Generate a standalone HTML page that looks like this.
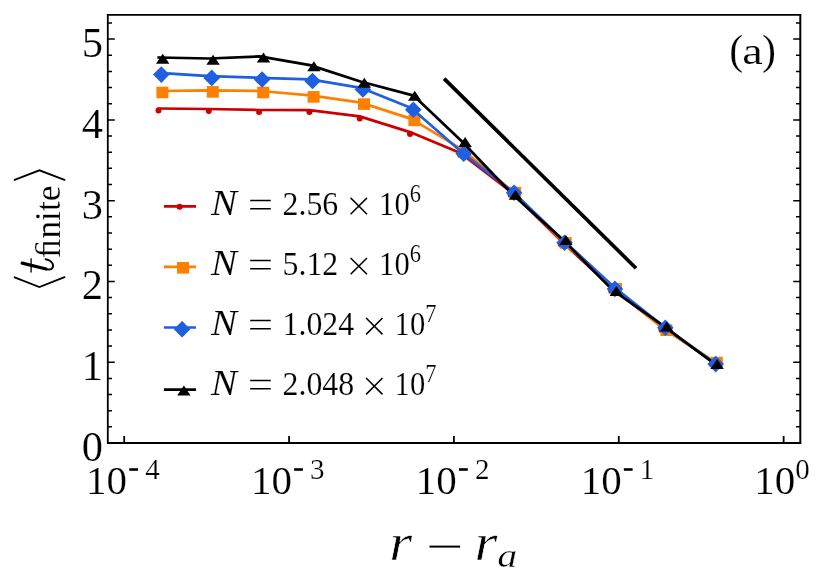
<!DOCTYPE html>
<html><head><meta charset="utf-8"><title>chart</title>
<style>html,body{margin:0;padding:0;background:#fff;}svg{display:block;}text{font-family:"Liberation Serif",serif;fill:#000;stroke:#fff;stroke-width:0.2px;}.it{font-style:italic;}#legendtext text{stroke-width:0.15px;}#xlabel text{stroke-width:0.6px;}</style>
</head><body>
<svg width="823" height="582" viewBox="0 0 823 582">
<rect x="0" y="0" width="823" height="582" fill="#ffffff"/>
<g id="series">
<polyline points="158.5,108.5 208.8,109 259.1,110 309.4,110.1 359.7,116.4 410,132.1 460.3,153 511.5,192.1 561.8,241.6 612.1,288.1 662.4,327.1 712.7,361.1" fill="none" stroke="#cc0000" stroke-width="2.7" stroke-linejoin="round" stroke-linecap="square"/>
<circle cx="158.5" cy="110.5" r="3" fill="#cc0000"/><circle cx="208.8" cy="111" r="3" fill="#cc0000"/><circle cx="259.1" cy="112" r="3" fill="#cc0000"/><circle cx="309.4" cy="112.1" r="3" fill="#cc0000"/><circle cx="359.7" cy="118.4" r="3" fill="#cc0000"/><circle cx="410" cy="134.1" r="3" fill="#cc0000"/><circle cx="460.3" cy="155" r="3" fill="#cc0000"/><circle cx="510.6" cy="195" r="3" fill="#cc0000"/><circle cx="560.9" cy="244.5" r="3" fill="#cc0000"/><circle cx="611.2" cy="291" r="3" fill="#cc0000"/><circle cx="661.5" cy="330" r="3" fill="#cc0000"/><circle cx="711.8" cy="364" r="3" fill="#cc0000"/>
<polyline points="159.4,91 209.8,90.4 260.2,91 310.6,95.4 361,102.6 411.4,118.9 462.8,149.9 512.2,191.1 562.6,241.4 613,287.3 663.4,328.7 713.8,361.1" fill="none" stroke="#ff7f00" stroke-width="2.7" stroke-linejoin="round" stroke-linecap="square"/>
<rect x="156.4" y="86.7" width="12" height="11.6" fill="#ff7f00"/><rect x="206.8" y="86.1" width="12" height="11.6" fill="#ff7f00"/><rect x="257.2" y="86.7" width="12" height="11.6" fill="#ff7f00"/><rect x="307.6" y="91.1" width="12" height="11.6" fill="#ff7f00"/><rect x="358" y="98.3" width="12" height="11.6" fill="#ff7f00"/><rect x="408.4" y="114.6" width="12" height="11.6" fill="#ff7f00"/><rect x="458.8" y="146.6" width="12" height="11.6" fill="#ff7f00"/><rect x="509.2" y="186.8" width="12" height="11.6" fill="#ff7f00"/><rect x="559.6" y="237.1" width="12" height="11.6" fill="#ff7f00"/><rect x="610" y="283" width="12" height="11.6" fill="#ff7f00"/><rect x="660.4" y="324.4" width="12" height="11.6" fill="#ff7f00"/><rect x="710.8" y="356.8" width="12" height="11.6" fill="#ff7f00"/>
<polyline points="159.2,72.9 209.6,76.2 260,77.8 310.4,79.3 360.8,87.8 411.2,108.1 461.6,152 512,191 563.3,240.2 613.4,286.6 663.2,326.1 713.6,362.4" fill="none" stroke="#1f5fe1" stroke-width="2.7" stroke-linejoin="round" stroke-linecap="square"/>
<polyline points="158.8,57.5 209.2,58.5 259.6,56.4 310,65.1 360.4,81.5 413.8,95.65 461.2,140.8 511.6,193.5 562,238.9 612.4,289.9 662.8,325.4 713.2,362.9" fill="none" stroke="#000000" stroke-width="2.7" stroke-linejoin="round" stroke-linecap="square"/>
<polygon points="161.3,66.3 169.6,74.6 161.3,82.9 153,74.6" fill="#1f5fe1"/><polygon points="211.7,69.6 220,77.9 211.7,86.2 203.4,77.9" fill="#1f5fe1"/><polygon points="262.1,71.2 270.4,79.5 262.1,87.8 253.8,79.5" fill="#1f5fe1"/><polygon points="312.5,72.7 320.8,81 312.5,89.3 304.2,81" fill="#1f5fe1"/><polygon points="362.9,81.2 371.2,89.5 362.9,97.8 354.6,89.5" fill="#1f5fe1"/><polygon points="413.3,101.5 421.6,109.8 413.3,118.1 405,109.8" fill="#1f5fe1"/><polygon points="463.7,145.4 472,153.7 463.7,162 455.4,153.7" fill="#1f5fe1"/><polygon points="514.1,184.4 522.4,192.7 514.1,201 505.8,192.7" fill="#1f5fe1"/><polygon points="564.5,234.5 572.8,242.8 564.5,251.1 556.2,242.8" fill="#1f5fe1"/><polygon points="614.9,280.6 623.2,288.9 614.9,297.2 606.6,288.9" fill="#1f5fe1"/><polygon points="665.3,319.5 673.6,327.8 665.3,336.1 657,327.8" fill="#1f5fe1"/><polygon points="715.7,355.8 724,364.1 715.7,372.4 707.4,364.1" fill="#1f5fe1"/>
<polygon points="162.7,53.7 156,63.7 169.4,63.7" fill="#000000"/><polygon points="213.1,54.7 206.4,64.7 219.8,64.7" fill="#000000"/><polygon points="263.5,52.6 256.8,62.6 270.2,62.6" fill="#000000"/><polygon points="313.9,61.3 307.2,71.3 320.6,71.3" fill="#000000"/><polygon points="364.3,77.7 357.6,87.7 371,87.7" fill="#000000"/><polygon points="414.7,90.85 408,100.85 421.4,100.85" fill="#000000"/><polygon points="465.1,137 458.4,147 471.8,147" fill="#000000"/><polygon points="515.5,189.7 508.8,199.7 522.2,199.7" fill="#000000"/><polygon points="565.9,235.1 559.2,245.1 572.6,245.1" fill="#000000"/><polygon points="616.3,286.1 609.6,296.1 623,296.1" fill="#000000"/><polygon points="666.7,321.6 660,331.6 673.4,331.6" fill="#000000"/><polygon points="717.1,359.1 710.4,369.1 723.8,369.1" fill="#000000"/>
<line x1="444.1" y1="78.6" x2="636" y2="268.2" stroke="#000" stroke-width="3.7"/>
</g>
<g id="axes" stroke="#000" stroke-width="1.8" fill="none">
<path d="M107.8 14.9V443H800.2" stroke-linecap="square"/>
<path d="M107.8 14.9H800.2" stroke-linecap="square"/>
<path d="M800.3 14.9V443" stroke-width="2" stroke-linecap="square"/>
<path d="M107.8 426.84h4.2M800.2 426.84h-4.2M107.8 410.69h4.2M800.2 410.69h-4.2M107.8 394.53h4.2M800.2 394.53h-4.2M107.8 378.38h4.2M800.2 378.38h-4.2M107.8 362.22h7M800.2 362.22h-7M107.8 346.06h4.2M800.2 346.06h-4.2M107.8 329.91h4.2M800.2 329.91h-4.2M107.8 313.75h4.2M800.2 313.75h-4.2M107.8 297.6h4.2M800.2 297.6h-4.2M107.8 281.44h7M800.2 281.44h-7M107.8 265.28h4.2M800.2 265.28h-4.2M107.8 249.13h4.2M800.2 249.13h-4.2M107.8 232.97h4.2M800.2 232.97h-4.2M107.8 216.82h4.2M800.2 216.82h-4.2M107.8 200.66h7M800.2 200.66h-7M107.8 184.5h4.2M800.2 184.5h-4.2M107.8 168.35h4.2M800.2 168.35h-4.2M107.8 152.19h4.2M800.2 152.19h-4.2M107.8 136.04h4.2M800.2 136.04h-4.2M107.8 119.88h7M800.2 119.88h-7M107.8 103.72h4.2M800.2 103.72h-4.2M107.8 87.57h4.2M800.2 87.57h-4.2M107.8 71.41h4.2M800.2 71.41h-4.2M107.8 55.26h4.2M800.2 55.26h-4.2M107.8 39.1h7M800.2 39.1h-7M107.8 22.94h4.2M800.2 22.94h-4.2" stroke-width="1.5"/>
<path d="M124.2 443v-7M289.06 443v-7M453.92 443v-7M618.78 443v-7M783.64 443v-7" stroke-width="1.8"/>
</g>
<g id="legendsamples">
<line x1="163.9" y1="206.3" x2="196" y2="206.3" stroke="#cc0000" stroke-width="2.7"/>
<circle cx="179.6" cy="206.8" r="3" fill="#cc0000"/>
<line x1="163.9" y1="266.8" x2="196" y2="266.8" stroke="#ff7f00" stroke-width="2.7"/>
<rect x="177" y="262" width="12" height="11.6" fill="#ff7f00"/>
<line x1="163.9" y1="327.5" x2="196" y2="327.5" stroke="#1f5fe1" stroke-width="2.7"/>
<polygon points="182.1,320.9 190.4,329.2 182.1,337.5 173.8,329.2" fill="#1f5fe1"/>
<line x1="163.9" y1="389.6" x2="196" y2="389.6" stroke="#000000" stroke-width="2.7"/>
<polygon points="183.9,385.4 177.2,395.4 190.6,395.4" fill="#000000"/>
</g>
<defs><filter id="gs" x="0" y="0" width="823" height="582" filterUnits="userSpaceOnUse" color-interpolation-filters="sRGB"><feColorMatrix type="saturate" values="0"/></filter></defs>
<g id="txt" filter="url(#gs)">
<g id="yticks" font-size="42.5" text-anchor="end">
<text x="103" y="460.9">0</text>
<text x="103" y="380.12">1</text>
<text x="103" y="299.34">2</text>
<text x="103" y="218.56">3</text>
<text x="103" y="137.78">4</text>
<text x="103" y="57">5</text>
</g>
<g id="xticks">
<text x="86.1" y="494.3" font-size="41">10</text>
<rect x="129.25" y="468.2" width="8.8" height="2.6" fill="#000"/>
<text x="145.2" y="479" font-size="29">4</text>
<text x="250.96" y="494.3" font-size="41">10</text>
<rect x="294.11" y="468.2" width="8.8" height="2.6" fill="#000"/>
<text x="310.06" y="479" font-size="29">3</text>
<text x="415.82" y="494.3" font-size="41">10</text>
<rect x="458.97" y="468.2" width="8.8" height="2.6" fill="#000"/>
<text x="474.92" y="479" font-size="29">2</text>
<text x="580.68" y="494.3" font-size="41">10</text>
<rect x="623.83" y="468.2" width="8.8" height="2.6" fill="#000"/>
<text x="639.78" y="479" font-size="29">1</text>
<text x="754.34" y="494.3" font-size="41">10</text>
<text x="795.24" y="479" font-size="29">0</text>
</g>
<g id="xlabel">
<text class="it" transform="translate(389.3,560) scale(1.1,1)" font-size="53.5">r</text>
<rect x="429.5" y="545.6" width="30.6" height="2" fill="#000"/>
<text class="it" transform="translate(474.6,560) scale(1.1,1)" font-size="53.5">r</text>
<text class="it" style="stroke-width:0.25px" transform="translate(497.4,567.4) scale(1.17,1)" font-size="33.5">a</text>
</g>
<g id="ylabel">
<polyline points="14.6,179.9 39.4,170.3 64.5,179.9" fill="none" stroke="#000" stroke-width="1.8" stroke-linecap="round"/>
<polyline points="14.6,277.3 39.4,287.1 64.5,277.2" fill="none" stroke="#000" stroke-width="1.8" stroke-linecap="round"/>
<path d="M22.2 263.1L46.2 269" stroke="#000" stroke-width="3.3" stroke-linecap="round" fill="none"/>
<path d="M45.6 268.8C50.3 270.4 53.4 269.2 53 265.2C52.6 262 49.2 259.7 45.6 259.2" stroke="#000" stroke-width="1.9" stroke-linecap="round" fill="none"/>
<path d="M31.1 258.2V272.6" stroke="#000" stroke-width="1.3" fill="none"/>
<text transform="translate(60.2,258.3) rotate(-90)" font-size="35.4">&#xFB01;nite</text>
</g>
<text x="729.3" y="63.5" font-size="42">(</text>
<text transform="translate(742.2,63.5) scale(1.1,0.906)" font-size="42">a</text>
<text x="762" y="63.5" font-size="42">)</text>
<g id="legendtext">
<text class="it" x="211" y="215.1" font-size="35" textLength="26" lengthAdjust="spacingAndGlyphs">N</text>
<path d="M250.2 200.5h20.6M250.2 208.7h20.6" stroke="#000" stroke-width="1.5" fill="none"/>
<text transform="translate(282.6,215.1) scale(0.936,1)" font-size="34">2.56</text>
<path d="M350.6 197.9l16.4 16.4M350.6 214.3l16.4 -16.4" stroke="#000" stroke-width="1.5" fill="none"/>
<text transform="translate(379.1,215.1) scale(0.9,1)" font-size="34">10</text>
<text transform="translate(409.8,201.5) scale(0.92,1)" font-size="24.4">6</text>
<text class="it" x="211" y="275.13" font-size="35" textLength="26" lengthAdjust="spacingAndGlyphs">N</text>
<path d="M250.2 260.53h20.6M250.2 268.73h20.6" stroke="#000" stroke-width="1.5" fill="none"/>
<text transform="translate(282.6,275.13) scale(0.936,1)" font-size="34">5.12</text>
<path d="M350.6 257.93l16.4 16.4M350.6 274.33l16.4 -16.4" stroke="#000" stroke-width="1.5" fill="none"/>
<text transform="translate(379.1,275.13) scale(0.9,1)" font-size="34">10</text>
<text transform="translate(409.8,261.53) scale(0.92,1)" font-size="24.4">6</text>
<text class="it" x="211" y="335.16" font-size="35" textLength="26" lengthAdjust="spacingAndGlyphs">N</text>
<path d="M250.2 320.56h20.6M250.2 328.76h20.6" stroke="#000" stroke-width="1.5" fill="none"/>
<text transform="translate(282.6,335.16) scale(0.936,1)" font-size="34">1.024</text>
<path d="M366.1 317.96l16.4 16.4M366.1 334.36l16.4 -16.4" stroke="#000" stroke-width="1.5" fill="none"/>
<text transform="translate(394.6,335.16) scale(0.9,1)" font-size="34">10</text>
<text transform="translate(425.3,321.56) scale(0.92,1)" font-size="24.4">7</text>
<text class="it" x="211" y="395.19" font-size="35" textLength="26" lengthAdjust="spacingAndGlyphs">N</text>
<path d="M250.2 380.59h20.6M250.2 388.79h20.6" stroke="#000" stroke-width="1.5" fill="none"/>
<text transform="translate(282.6,395.19) scale(0.936,1)" font-size="34">2.048</text>
<path d="M366.1 377.99l16.4 16.4M366.1 394.39l16.4 -16.4" stroke="#000" stroke-width="1.5" fill="none"/>
<text transform="translate(394.6,395.19) scale(0.9,1)" font-size="34">10</text>
<text transform="translate(425.3,381.59) scale(0.92,1)" font-size="24.4">7</text>
</g>
</g>
</svg>
</body></html>
